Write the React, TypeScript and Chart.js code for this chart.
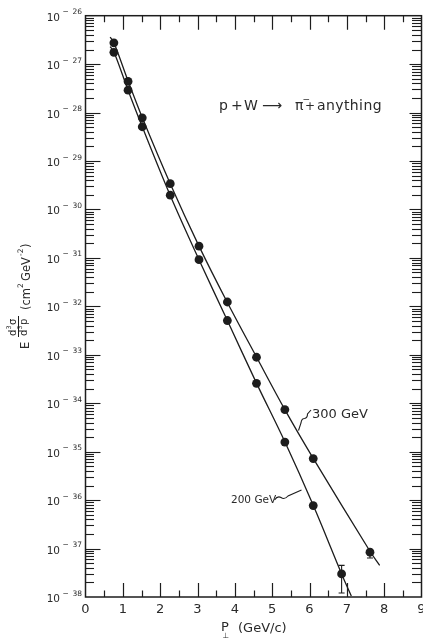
import React, { useEffect, useRef } from "react";
import { Chart, registerables } from "chart.js";

Chart.register(...registerables);

// ---- data ----
const pts300X = [0.76, 1.14, 1.52, 2.27, 3.04, 3.8, 4.58, 5.34, 6.1, 7.62];
const pts300Y = [2.75e-27, 4.4e-28, 7.8e-29, 3.4e-30, 1.75e-31, 1.23e-32, 8.9e-34, 7.4e-35, 7.2e-36, 8.4e-38];
const pts200X = [0.76, 1.14, 1.52, 2.27, 3.04, 3.8, 4.58, 5.34, 6.1, 6.86];
const pts200Y = [1.75e-27, 2.9e-28, 5.1e-29, 1.97e-30, 9.2e-32, 5.1e-33, 2.58e-34, 1.58e-35, 7.7e-37, 3.0e-38];

const curve300X = [0.66, 0.76, 1.14, 1.52, 2.27, 3.04, 3.8, 4.58, 5.34, 6.1, 7.62, 7.88];
const curve300Y = [3.6e-27, 2.8e-27, 4.5e-28, 7.9e-29, 3.4e-30, 1.75e-31, 1.2e-32, 9.0e-34, 7.4e-35, 7.3e-36, 8.8e-38, 4.5e-38];
const curve200X = [0.66, 0.76, 1.14, 1.52, 2.27, 3.04, 3.8, 4.58, 5.34, 6.1, 6.86, 7.12];
const curve200Y = [2.3e-27, 1.8e-27, 2.9e-28, 5.1e-29, 1.95e-30, 9.2e-32, 5.1e-33, 2.6e-34, 1.6e-35, 7.8e-37, 3.0e-38, 1.05e-38];

const errX = [7.62, 6.86];
const errLo = [6.4e-38, 1.21e-38];
const errHi = [9.5e-38, 4.5e-38];

const xTickLabels = ["0", "1", "2", "3", "4", "5", "6", "7", "8", "9"];
const yExponents = [-26, -27, -28, -29, -30, -31, -32, -33, -34, -35, -36, -37, -38];

const INK = "#1d1d1d";
const TXT = "#2a2a2a";
const FONT = '"DejaVu Sans", sans-serif';

function drawFrame(chart: any) {
  const { ctx, chartArea: a, scales } = chart;
  const xs = scales.x;
  const ys = scales.y;
  ctx.save();
  ctx.strokeStyle = INK;
  ctx.fillStyle = TXT;

  // frame
  ctx.lineWidth = 1.5;
  ctx.strokeRect(a.left, a.top, a.right - a.left, a.bottom - a.top);

  // x ticks (top and bottom, inward)
  ctx.lineWidth = 1.2;
  for (let i = 1; i < 18; i++) {
    const v = i / 2;
    const px = Math.round(xs.getPixelForValue(v)) + 0.5;
    const len = i % 2 === 0 ? 14 : 6.5;
    ctx.beginPath();
    ctx.moveTo(px, a.bottom);
    ctx.lineTo(px, a.bottom - len);
    ctx.moveTo(px, a.top);
    ctx.lineTo(px, a.top + len);
    ctx.stroke();
  }

  // y ticks (log, left and right, inward)
  ctx.lineWidth = 1.1;
  for (let e = -38; e <= -27; e++) {
    for (let m = 1; m <= 9; m++) {
      if (e === -38 && m === 1) continue;
      const v = m * Math.pow(10, e);
      const py = Math.round(ys.getPixelForValue(v)) + 0.5;
      const major = m === 1;
      ctx.beginPath();
      ctx.moveTo(a.left, py);
      ctx.lineTo(a.left + (major ? 15 : 8.5), py);
      ctx.stroke();
      ctx.beginPath();
      ctx.moveTo(a.right, py);
      ctx.lineTo(a.right - (major ? 12 : 9.5), py);
      ctx.stroke();
    }
  }

  // y tick labels 10^e
  for (const e of yExponents) {
    const py = ys.getPixelForValue(Math.pow(10, e));
    ctx.textAlign = "right";
    ctx.textBaseline = "alphabetic";
    ctx.font = `10.5px ${FONT}`;
    ctx.fillText("10", 60, py + 5);
    ctx.font = `7.5px ${FONT}`;
    ctx.fillText(String(-e), 82, py - 1.5);
    ctx.textAlign = "left";
    ctx.fillText("−", 62.5, py - 1.5);
  }

  // x tick labels
  ctx.font = `13px ${FONT}`;
  ctx.textAlign = "center";
  ctx.textBaseline = "alphabetic";
  xTickLabels.forEach((t, i) => {
    ctx.fillText(t, xs.getPixelForValue(i), 613);
  });

  // x title: P⊥ (GeV/c)
  ctx.textAlign = "left";
  ctx.font = `13px ${FONT}`;
  ctx.fillText("P", 221, 631);
  ctx.font = `7.5px ${FONT}`;
  ctx.fillText("⊥", 222.5, 637.5);
  ctx.font = `13px ${FONT}`;
  ctx.fillText("(GeV/c)", 238, 632);

  // y title (rotated)
  ctx.save();
  ctx.translate(0, 349);
  ctx.rotate(-Math.PI / 2);
  ctx.textAlign = "left";
  ctx.font = `11.5px ${FONT}`;
  ctx.fillText("E", 0, 29);
  ctx.font = `10px ${FONT}`;
  ctx.fillText("d", 13, 16);
  ctx.fillText("σ", 24, 16);
  ctx.fillText("d", 13, 27);
  ctx.fillText("p", 24, 27);
  ctx.font = `6.5px ${FONT}`;
  ctx.fillText("3", 19.5, 11);
  ctx.fillText("3", 19.5, 22);
  ctx.lineWidth = 1;
  ctx.beginPath();
  ctx.moveTo(12, 18.5);
  ctx.lineTo(33, 18.5);
  ctx.stroke();
  ctx.font = `11.5px ${FONT}`;
  ctx.fillText("(cm", 39, 30);
  ctx.font = `7.5px ${FONT}`;
  ctx.fillText("2", 61, 23);
  ctx.font = `11.5px ${FONT}`;
  ctx.fillText("GeV", 68, 30);
  ctx.font = `7.5px ${FONT}`;
  ctx.fillText("-2", 93, 23);
  ctx.font = `11.5px ${FONT}`;
  ctx.fillText(")", 101, 30);
  ctx.restore();

  // reaction label
  ctx.textAlign = "left";
  ctx.font = `14px ${FONT}`;
  ctx.fillText("p", 219, 110);
  ctx.fillText("+", 231, 110);
  ctx.fillText("W", 244, 110);
  ctx.fillText("⟶", 262, 110);
  ctx.fillText("π", 295, 110);
  ctx.font = `9px ${FONT}`;
  ctx.fillText("−", 302.5, 102);
  ctx.font = `12px ${FONT}`;
  ctx.fillText("+", 305, 110);
  ctx.font = `14px ${FONT}`;
  (ctx as any).letterSpacing = "0.4px";
  ctx.fillText("anything", 317, 110);
  (ctx as any).letterSpacing = "0px";

  // energy labels
  ctx.font = `13px ${FONT}`;
  ctx.fillText("300 GeV", 312, 418);
  ctx.font = `10.5px ${FONT}`;
  ctx.fillText("200 GeV", 231, 503);

  // leaders
  ctx.lineWidth = 1.1;
  ctx.beginPath();
  ctx.moveTo(298.5, 430.5);
  ctx.lineTo(301, 423);
  ctx.quadraticCurveTo(301.5, 418.5, 304.5, 418.5);
  ctx.quadraticCurveTo(307.5, 418, 307.5, 414);
  ctx.lineTo(311, 410);
  ctx.stroke();
  ctx.beginPath();
  ctx.moveTo(274.5, 500);
  ctx.quadraticCurveTo(277.5, 495.5, 281, 497.5);
  ctx.quadraticCurveTo(284.5, 500, 288, 496);
  ctx.lineTo(301.5, 490);
  ctx.stroke();

  // error bars
  ctx.lineWidth = 1.1;
  errX.forEach((x, i) => {
    const px = xs.getPixelForValue(x);
    const y1 = ys.getPixelForValue(errLo[i]);
    const y2 = ys.getPixelForValue(errHi[i]);
    ctx.beginPath();
    ctx.moveTo(px, y1);
    ctx.lineTo(px, y2);
    ctx.moveTo(px - 3, y1);
    ctx.lineTo(px + 3, y1);
    ctx.moveTo(px - 3, y2);
    ctx.lineTo(px + 3, y2);
    ctx.stroke();
  });

  ctx.restore();
}

const framePlugin = {
  id: "framePlugin",
  afterDraw(chart: any) {
    drawFrame(chart);
  },
};

export default function App() {
  const ref = useRef<HTMLCanvasElement>(null);
  useEffect(() => {
    document.body.style.margin = "0";
    const toXY = (xs: number[], ys: number[]) => xs.map((x, i) => ({ x, y: ys[i] }));
    const chart = new Chart(ref.current as HTMLCanvasElement, {
      type: "scatter",
      data: {
        datasets: [
          {
            label: "300 GeV fit",
            data: toXY(curve300X, curve300Y),
            showLine: true,
            borderColor: INK,
            borderWidth: 1.3,
            pointRadius: 0,
            tension: 0.35,
            fill: false,
          } as any,
          {
            label: "200 GeV fit",
            data: toXY(curve200X, curve200Y),
            showLine: true,
            borderColor: INK,
            borderWidth: 1.3,
            pointRadius: 0,
            tension: 0.35,
            fill: false,
          } as any,
          {
            label: "300 GeV",
            data: toXY(pts300X, pts300Y),
            pointRadius: 4.4,
            backgroundColor: INK,
            borderColor: INK,
            borderWidth: 0,
          },
          {
            label: "200 GeV",
            data: toXY(pts200X, pts200Y),
            pointRadius: 4.4,
            backgroundColor: INK,
            borderColor: INK,
            borderWidth: 0,
          },
        ],
      },
      options: {
        responsive: false,
        animation: false,
        layout: { autoPadding: false, padding: { left: 85.5, right: 1.5, top: 15.7, bottom: 41 } },
        scales: {
          x: { type: "linear", min: 0, max: 9, display: false },
          y: { type: "logarithmic", min: 1e-38, max: 1e-26, display: false },
        },
        plugins: { legend: { display: false }, tooltip: { enabled: false } },
      } as any,
      plugins: [framePlugin],
    });
    return () => chart.destroy();
  }, []);
  return (
    <canvas
      ref={ref}
      width={423}
      height={638}
      style={{ display: "block", width: 423, height: 638 }}
    />
  );
}
